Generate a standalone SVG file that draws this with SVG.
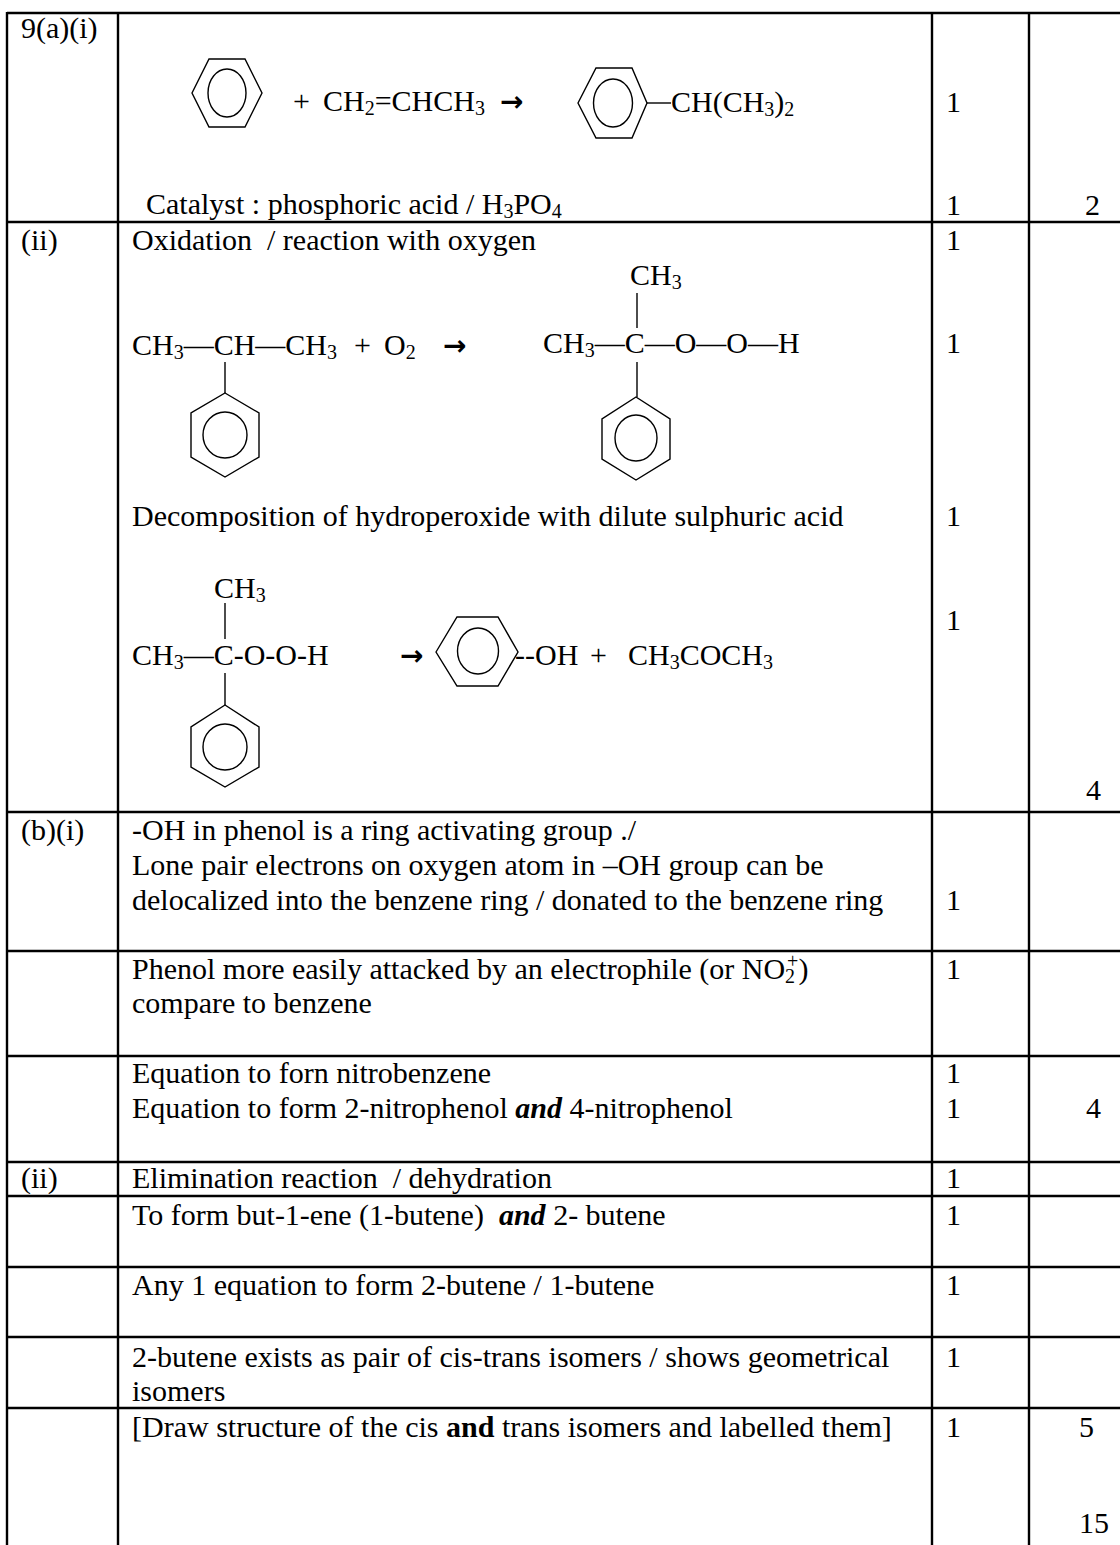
<svg xmlns="http://www.w3.org/2000/svg" width="1120" height="1545" viewBox="0 0 1120 1545">
<style>
text{font-family:"Liberation Serif","Times New Roman",serif;font-size:30px;fill:#000}
.s{font-size:20px}
.arr{font-family:"DejaVu Sans",sans-serif;font-weight:bold;font-size:28px}
.grid line{stroke:#000;stroke-width:2.4}
.bond{stroke:#000;stroke-width:1.4;fill:none}
.bi{font-weight:bold;font-style:italic}
.b{font-weight:bold}
</style>
<rect width="1120" height="1545" fill="#fff"/>
<g id="grid" class="grid">
<line x1="7" y1="13" x2="1120" y2="13"/>
<line x1="7" y1="222" x2="1120" y2="222"/>
<line x1="7" y1="812" x2="1120" y2="812"/>
<line x1="7" y1="951" x2="1120" y2="951"/>
<line x1="7" y1="1056" x2="1120" y2="1056"/>
<line x1="7" y1="1162" x2="1120" y2="1162"/>
<line x1="7" y1="1196" x2="1120" y2="1196"/>
<line x1="7" y1="1267" x2="1120" y2="1267"/>
<line x1="7" y1="1337" x2="1120" y2="1337"/>
<line x1="7" y1="1408" x2="1120" y2="1408"/>
<line x1="7" y1="12" x2="7" y2="1545"/>
<line x1="118" y1="12" x2="118" y2="1545"/>
<line x1="932" y1="12" x2="932" y2="1545"/>
<line x1="1029" y1="12" x2="1029" y2="1545"/>
</g>
<g id="row-a-i">
<text x="21" y="38">9(a)(i)</text>
<g id="benzene1" class="bond"><polygon points="192,93 209,59 245,59 262,93 245,127 209,127"/><ellipse cx="227" cy="93" rx="19" ry="24"/></g>
<text x="293" y="111">+</text>
<text x="323" y="111">CH<tspan class="s" dy="4">2</tspan><tspan dy="-4">=CHCH</tspan><tspan class="s" dy="4">3</tspan></text>
<text class="arr" x="500" y="111">→</text>
<g id="cumene" class="bond"><polygon points="578,103 596,68 632,68 647,103 632,138 596,138"/><ellipse cx="613" cy="103" rx="19.5" ry="24"/><line x1="647" y1="103" x2="671" y2="103"/></g>
<text x="671" y="112">CH(CH<tspan class="s" dy="4">3</tspan><tspan dy="-4">)</tspan><tspan class="s" dy="4">2</tspan></text>
<text x="146" y="214">Catalyst : phosphoric acid / H<tspan class="s" dy="4">3</tspan><tspan dy="-4">PO</tspan><tspan class="s" dy="4">4</tspan></text>
<text x="946" y="112">1</text>
<text x="946" y="215">1</text>
<text x="1085" y="215">2</text>
</g>
<g id="row-a-ii">
<text x="21" y="250">(ii)</text>
<text x="132" y="250">Oxidation&#160; / reaction with oxygen</text>
<text x="946" y="250">1</text>
<text x="132" y="355">CH<tspan class="s" dy="4">3</tspan><tspan dy="-4">—CH—CH</tspan><tspan class="s" dy="4">3</tspan></text>
<text x="354" y="355">+</text>
<text x="384" y="355">O<tspan class="s" dy="4">2</tspan></text>
<text class="arr" x="443" y="355">→</text>
<g id="cumeneA" class="bond"><line x1="225" y1="362" x2="225" y2="393"/><polygon points="225,393 259,413 259,457 225,477 191,457 191,413"/><ellipse cx="225" cy="435" rx="22" ry="23"/></g>
<text x="630" y="285">CH<tspan class="s" dy="4">3</tspan></text>
<text x="543" y="353">CH<tspan class="s" dy="4">3</tspan><tspan dy="-4">—C—O—O—H</tspan></text>
<g id="hydroperoxideB" class="bond"><line x1="637" y1="293" x2="637" y2="328"/><line x1="637" y1="362" x2="637" y2="397"/><polygon points="636,397 670,419 670,459 636,480 602,459 602,419"/><ellipse cx="636" cy="438" rx="21" ry="23"/></g>
<text x="946" y="353">1</text>
<text x="132" y="526">Decomposition of hydroperoxide with dilute sulphuric acid</text>
<text x="946" y="526">1</text>
<text x="214" y="598">CH<tspan class="s" dy="4">3</tspan></text>
<text x="132" y="665">CH<tspan class="s" dy="4">3</tspan><tspan dy="-4">—C-O-O-H</tspan></text>
<g id="hydroperoxideC" class="bond"><line x1="225" y1="603" x2="225" y2="639"/><line x1="225" y1="673" x2="225" y2="705"/><polygon points="225,705 259,727 259,767 225,787 191,767 191,727"/><ellipse cx="225" cy="747" rx="22" ry="23"/></g>
<text class="arr" x="400" y="665">→</text>
<g id="phenol" class="bond"><polygon points="436,652 457,617 498,617 518,652 498,686 457,686"/><ellipse cx="478" cy="651" rx="20.5" ry="23"/></g>
<text x="515" y="665">--OH</text>
<text x="590" y="665">+</text>
<text x="628" y="665">CH<tspan class="s" dy="4">3</tspan><tspan dy="-4">COCH</tspan><tspan class="s" dy="4">3</tspan></text>
<text x="946" y="630">1</text>
<text x="1086" y="800">4</text>
</g>
<g id="row-b-i">
<text x="21" y="840">(b)(i)</text>
<text x="132" y="840">-OH in phenol is a ring activating group ./</text>
<text x="132" y="875">Lone pair electrons on oxygen atom in –OH group can be</text>
<text x="132" y="910">delocalized into the benzene ring / donated to the benzene ring</text>
<text x="946" y="910">1</text>
<text x="132" y="979">Phenol more easily attacked by an electrophile (or NO<tspan class="s" dy="4">2</tspan><tspan class="s" dx="-8" dy="-15">+</tspan><tspan dy="11">)</tspan></text>
<text x="946" y="979">1</text>
<text x="132" y="1013">compare to benzene</text>
<text x="132" y="1083">Equation to forn nitrobenzene</text>
<text x="946" y="1083">1</text>
<text x="132" y="1118">Equation to form 2-nitrophenol <tspan class="bi">and</tspan> 4-nitrophenol</text>
<text x="946" y="1118">1</text>
<text x="1086" y="1118">4</text>
</g>
<g id="row-b-ii">
<text x="21" y="1188">(ii)</text>
<text x="132" y="1188">Elimination reaction&#160; / dehydration</text>
<text x="946" y="1188">1</text>
<text x="132" y="1225">To form but-1-ene (1-butene)&#160; <tspan class="bi">and</tspan> 2- butene</text>
<text x="946" y="1225">1</text>
<text x="132" y="1295">Any 1 equation to form 2-butene / 1-butene</text>
<text x="946" y="1295">1</text>
<text x="132" y="1367">2-butene exists as pair of cis-trans isomers / shows geometrical</text>
<text x="132" y="1401">isomers</text>
<text x="946" y="1367">1</text>
<text x="132" y="1437">[Draw structure of the cis <tspan class="b">and</tspan> trans isomers and labelled them]</text>
<text x="946" y="1437">1</text>
<text x="1079" y="1437">5</text>
<text x="1079" y="1533">15</text>
</g>
</svg>
